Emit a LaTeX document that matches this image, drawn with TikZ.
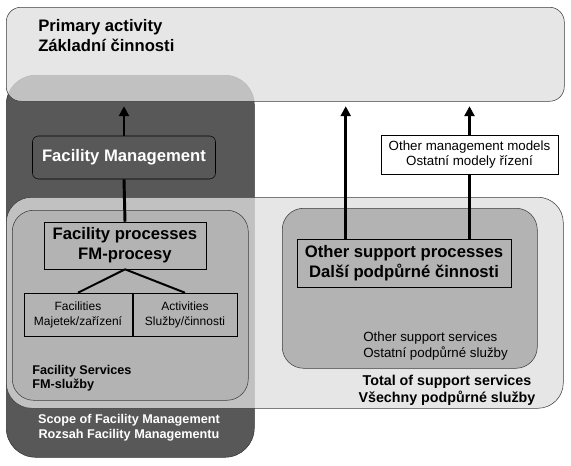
\documentclass[tikz,border=0pt]{standalone}
\usepackage{fontspec}
\setmainfont{Liberation Sans}
\usetikzlibrary{arrows.meta, calc}

\definecolor{lightarea}{RGB}{223,223,223}
\definecolor{darkarea}{RGB}{88,88,88}
\definecolor{midarea}{RGB}{179,179,179}
\definecolor{edgegray}{RGB}{60,60,60}
\newcommand{\pxu}{0.75pt}

\begin{document}
\begin{tikzpicture}[x=0.75pt, y=-0.75pt,
    area/.style={draw=edgegray, fill=lightarea, fill opacity=0.78, rounded corners=#1, anchor=north west, inner sep=0pt},
    scopearea/.style={draw=black!80, fill=darkarea, rounded corners=22pt, anchor=north west, inner sep=0pt},
    group/.style={draw=edgegray, fill=midarea, rounded corners=16pt, anchor=north west, inner sep=0pt},
    procbox/.style={draw=black, fill=midarea, align=center, inner sep=0pt, font=\bfseries\fontsize{12.5}{15}\selectfont},
    smallbox/.style={draw=black, fill=midarea, align=center, inner sep=0pt, font=\fontsize{9}{11.25}\selectfont},
    label/.style={inner sep=0pt, text=black},
    link/.style={line width=1.5pt},
    shaft/.style={line width=2.2pt},
    arrow/.style={line width=2.2pt, -{Triangle[length=7.5pt, width=7.5pt]}, shorten >=3.5pt}]
    \useasboundingbox (0,0) rectangle (571,465);
    \node[scopearea, minimum width=248*\pxu, minimum height=382*\pxu] (scope) at (6,75) {};
    \node[area=11pt, minimum width=558*\pxu, minimum height=94*\pxu] (primary) at (6,7) {};
    \node[area=19pt, minimum width=557*\pxu, minimum height=211*\pxu] (total) at (6,197) {};
    \node[group, minimum width=236*\pxu, minimum height=190*\pxu] (fmservices) at (12,210) {};
    \node[group, minimum width=255*\pxu, minimum height=160*\pxu] (othservices) at (282,208) {};
    \node[label, anchor=north west, align=left, font=\bfseries\fontsize{12.5}{15}\selectfont] (primarytext) at (38,19) {Primary activity\\Základní činnosti};
    \node[draw=black, fill=darkarea, rounded corners=4.5pt, text=white, minimum width=183*\pxu, minimum height=43*\pxu, inner sep=0pt, font=\bfseries\fontsize{12.5}{15}\selectfont] (fm) at (124,157.5) {Facility Management};
    \node[procbox, minimum width=162*\pxu, minimum height=47*\pxu] (fp) at (125,245.5) {Facility processes\\FM-procesy};
    \node[smallbox, minimum width=108*\pxu, minimum height=43*\pxu] (facilities) at (78,314.5) {Facilities\\Majetek/zařízení};
    \node[smallbox, minimum width=104*\pxu, minimum height=43*\pxu] (activities) at (185,314.5) {Activities\\Služby/činnosti};
    \node[procbox, minimum width=214*\pxu, minimum height=48*\pxu] (osp) at (404,263) {Other support processes\\Další podpůrné činnosti};
    \node[draw=black, fill=white, align=center, inner sep=0pt, minimum width=177*\pxu, minimum height=39*\pxu, font=\fontsize{10}{11.25}\selectfont] (omm) at (469.5,154.5) {Other management models\\Ostatní modely řízení};
    \node[label, anchor=north west, align=left, font=\bfseries\fontsize{9.5}{10.5}\selectfont] (fmservtext) at (32,365) {Facility Services\\FM-služby};
    \node[label, anchor=north west, align=left, font=\fontsize{10}{12}\selectfont] (othservtext) at (363,332) {Other support services\\Ostatní podpůrné služby};
    \node[label, anchor=north, align=center, font=\bfseries\fontsize{10.7}{12.75}\selectfont] (totaltext) at (447,375) {Total of support services\\Všechny podpůrné služby};
    \node[label, anchor=north, align=center, text=white, font=\bfseries\fontsize{9.5}{11.25}\selectfont] (scopetext) at (129,414) {Scope of Facility Management\\Rozsah Facility Managementu};
    \draw[link] (fp.south) -- (facilities.north);
    \draw[link] (fp.south) -- (activities.north);
    \draw[shaft] (fp.north) -- (fm.south);
    \draw[arrow] (fm.north) -- (fm.north |- primary.south);
    \coordinate (ospleft) at ($(osp.north west)+(49,0)$);
    \draw[arrow] (ospleft) -- (ospleft |- primary.south);
    \draw[shaft] (osp.north -| omm.south) -- (omm.south);
    \draw[arrow] (omm.north) -- (omm.north |- primary.south);
\end{tikzpicture}
\end{document}
